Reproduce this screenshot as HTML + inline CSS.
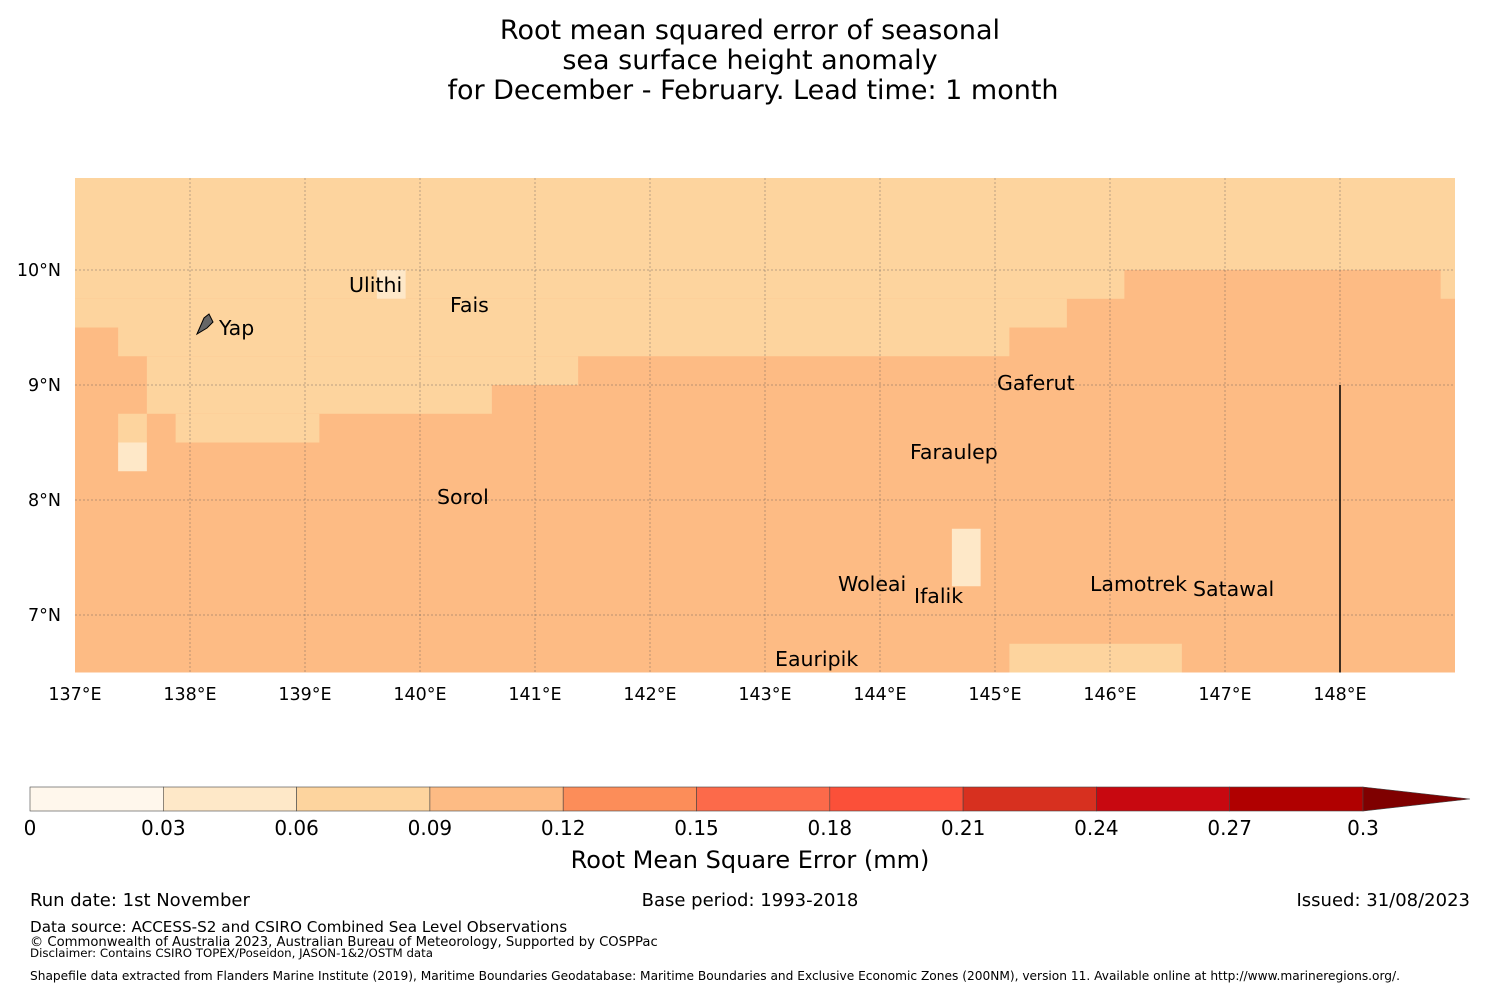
<!DOCTYPE html>
<html><head><meta charset="utf-8"><style>
body{margin:0;background:#fff;font-family:"DejaVu Sans","Liberation Sans",sans-serif;}
svg text{font-family:"DejaVu Sans","Liberation Sans",sans-serif;}
</style></head><body>
<svg id="c" width="1500" height="990" xmlns="http://www.w3.org/2000/svg">
<g font-size="27" text-anchor="middle" fill="#000">
<text x="750" y="39">Root mean squared error of seasonal</text>
<text x="750" y="69">sea surface height anomaly</text>
<text x="753" y="99">for December - February. Lead time: 1 month</text>
</g>
<g id="map"></g>
<g id="grid"></g>
<g id="labels" font-size="20.5" fill="#000"></g>
<g id="axes" font-size="17.5" fill="#000"></g>
<g id="cbar"></g>
<text x="750" y="868" font-size="24" text-anchor="middle">Root Mean Square Error (mm)</text>
<g font-size="18">
<text x="30" y="906">Run date: 1st November</text>
<text x="750" y="906" text-anchor="middle">Base period: 1993-2018</text>
<text x="1470" y="906" text-anchor="end">Issued: 31/08/2023</text>
<text x="30" y="932" font-size="15.2">Data source: ACCESS-S2 and CSIRO Combined Sea Level Observations</text>
<text x="30" y="946" font-size="13.2">© Commonwealth of Australia 2023, Australian Bureau of Meteorology, Supported by COSPPac</text>
<text x="30" y="957" font-size="11.8">Disclaimer: Contains CSIRO TOPEX/Poseidon, JASON-1&amp;2/OSTM data</text>
<text x="30" y="980" font-size="12.2">Shapefile data extracted from Flanders Marine Institute (2019), Maritime Boundaries Geodatabase: Maritime Boundaries and Exclusive Economic Zones (200NM), version 11. Available online at http://www.marineregions.org/.</text>
</g>
</svg>
<script>
const NS="http://www.w3.org/2000/svg";
// data
const levels=[0,0.03,0.06,0.09,0.12,0.15,0.18,0.21,0.24,0.27,0.3];
const levelColors=["#fff7ec","#fee8c8","#fdd49e","#fdbb84","#fc8d59","#fc6a4a","#fb5039","#d7301f","#c80810","#b00000"];
const lonTicks=[137,138,139,140,141,142,143,144,145,146,147,148];
const latTicks=[7,8,9,10];
// cells: [lon0, lon1, lat0, lat1, rmse]
const baseValue=0.105;
const cells=[
[137,149,10,10.8,0.075],
[137,146.125,9.75,10,0.075],[148.875,149,9.75,10,0.075],
[137,145.625,9.5,9.75,0.075],
[137.375,145.125,9.25,9.5,0.075],
[137.625,141.375,9,9.25,0.075],
[137.625,140.625,8.75,9,0.075],
[137.375,137.625,8.5,8.75,0.075],[137.875,139.125,8.5,8.75,0.075],
[137.375,137.625,8.25,8.5,0.045],
[139.625,139.875,9.75,10,0.045],
[144.625,144.875,7.25,7.75,0.045],
[145.125,146.625,6.5,6.75,0.075]
];
const islands=[["Ulithi",139.383,9.870],["Fais",140.261,9.696],["Yap",138.252,9.496],["Gaferut",145.017,9.017],["Faraulep",144.261,8.417],["Sorol",140.148,8.026],["Woleai",143.635,7.270],["Ifalik",144.296,7.165],["Lamotrek",145.826,7.270],["Satawal",146.722,7.226],["Eauripik",143.087,6.617]];
const lon0=137,lat0=10,px=115,X0=75,Y0=270;
const x=l=>X0+(l-lon0)*px, y=l=>Y0-(l-lat0)*px;
const col=v=>{for(let i=0;i<levels.length-1;i++) if(v<levels[i+1]) return levelColors[i]; return "#7f0000";};
function mk(t,a,p){const e=document.createElementNS(NS,t);for(const k in a)e.setAttribute(k,a[k]);p.appendChild(e);return e;}
const map=document.getElementById("map");
const bg=mk("rect",{x:x(137),y:y(10.8),width:x(149)-x(137),height:y(6.5)-y(10.8),fill:col(baseValue)},map);


cells.forEach(c=>{const r=mk("rect",{x:x(c[0]),y:y(c[3]),width:x(c[1])-x(c[0]),height:y(c[2])-y(c[3]),fill:col(c[4])},map);

});
const grid=document.getElementById("grid");
lonTicks.slice(1).forEach(l=>{const g=mk("line",{x1:x(l),x2:x(l),y1:y(10.8),y2:y(6.5),stroke:"#555","stroke-opacity":"0.4","stroke-dasharray":"2,2","stroke-width":1},grid);

});
latTicks.forEach(l=>{const g=mk("line",{x1:x(137),x2:x(149),y1:y(l),y2:y(l),stroke:"#555","stroke-opacity":"0.4","stroke-dasharray":"2,2","stroke-width":1},grid);

});
const bl=mk("line",{x1:x(148),x2:x(148),y1:y(9),y2:y(6.5),stroke:"#000","stroke-width":1.5},grid);


const yp=mk("path",{d:"M197,334 L204,318 L209,314 L213,322 L207,328 Z",fill:"#666",stroke:"#000","stroke-width":1},grid);


const lab=document.getElementById("labels");
islands.forEach(d=>{const t=mk("text",{x:x(d[1]),y:y(d[2])+7},lab);t.textContent=d[0];

});
const ax=document.getElementById("axes");
lonTicks.forEach(l=>{const t=mk("text",{x:x(l),y:700,"text-anchor":"middle"},ax);t.textContent=l+"°E";

});
latTicks.forEach(l=>{const t=mk("text",{x:61,y:y(l)+6,"text-anchor":"end"},ax);t.textContent=l+"°N";

});
const cb=document.getElementById("cbar");
const cx0=30,cx1=1363,cy=787,ch=24,sw=(cx1-cx0)/(levels.length-1);
levelColors.forEach((c,i)=>{const r=mk("rect",{x:cx0+i*sw,y:cy,width:sw,height:ch,fill:c,stroke:"#444","stroke-width":0.6},cb);

});
const tri=mk("polygon",{points:`${cx1},${cy} 1470,${cy+ch/2} ${cx1},${cy+ch}`,fill:"#7f0000",stroke:"#444","stroke-width":0.6},cb);


levels.forEach((v,i)=>{const t=mk("text",{x:cx0+i*sw,y:835,"text-anchor":"middle","font-size":20},cb);t.textContent=String(v);

});
</script>
</body></html>
